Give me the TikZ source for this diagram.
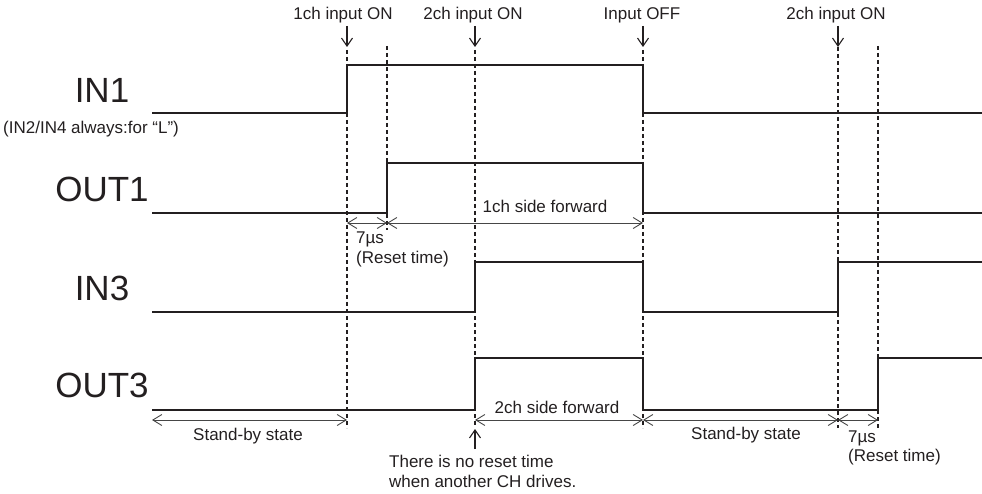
\documentclass[tikz,border=0pt]{standalone}
\usepackage{fontspec}
\setmainfont{Liberation Sans}
\usetikzlibrary{arrows.meta}
\definecolor{ink}{RGB}{35,31,32}
\definecolor{dimc}{RGB}{70,70,70}
\begin{document}
\begin{tikzpicture}[x=1pt,y=-1pt,
  sig/.style={line width=1.8pt, draw=ink, line join=miter, line cap=butt},
  guide/.style={line width=1.3pt, draw=ink, dash pattern=on 4pt off 3pt},
  dimline/.style={line width=0.9pt, draw=dimc, {Straight Barb[length=9pt,width=11pt,line width=0.9pt]}-{Straight Barb[length=9pt,width=11pt,line width=0.9pt]}},
  ptr/.style={line width=1.1pt, draw=ink, -{Straight Barb[length=8pt,width=11pt,line width=1.1pt]}},
  big/.style={font=\fontsize{35}{35}\selectfont, text=ink, inner sep=0pt, anchor=base},
  small/.style={font=\fontsize{17}{20}\selectfont, text=ink, inner sep=0pt, anchor=base},
  smallw/.style={font=\fontsize{17}{20}\selectfont, text=ink, inner sep=0pt, anchor=base west},
]
\useasboundingbox (0,0) rectangle (982,494);

% guide lines
\coordinate (g1t) at (347,50);  \coordinate (g1b) at (347,428);
\coordinate (g2t) at (387,46);  \coordinate (g2b) at (387,230);
\coordinate (g3t) at (475,50);  \coordinate (g3b) at (475,425);
\coordinate (g4t) at (643,50);  \coordinate (g4b) at (643,428);
\coordinate (g5t) at (838,47);  \coordinate (g5b) at (838,428);
\coordinate (g6t) at (878,46);  \coordinate (g6b) at (878,428);
\foreach \i in {1,...,6} {\draw[guide] (g\i t) -- (g\i b);}

% signal labels
\node[big] (lin1) at (102,103) {IN1};
\node[big] (lout1) at (102,202) {OUT1};
\node[big] (lin3) at (102,301) {IN3};
\node[big] (lout3) at (102,397) {OUT3};
\node[small, anchor=base west] (note) at (3,134) {(IN2/IN4 always:for “L”)};

% signals
\draw[sig] (152,113) -- (347,113) -- (347,65) -- (643,65) -- (643,113) -- (982,113);
\draw[sig] (152,213) -- (387,213) -- (387,163) -- (643,163) -- (643,213) -- (982,213);
\draw[sig] (152,312) -- (475,312) -- (475,262) -- (643,262) -- (643,312) -- (838,312) -- (838,262) -- (982,262);
\draw[sig] (152,410) -- (475,410) -- (475,358) -- (643,358) -- (643,410) -- (878,410) -- (878,358) -- (982,358);

% event labels and arrows
\node[small] (e1) at (343,20) {1ch input ON};
\node[small] (e2) at (473,20) {2ch input ON};
\node[small] (e3) at (642,20) {Input OFF};
\node[small] (e4) at (836,20) {2ch input ON};
\coordinate (a1s) at (347,26); \coordinate (a1e) at (347,47);
\coordinate (a2s) at (475,26); \coordinate (a2e) at (475,47);
\coordinate (a3s) at (643,26); \coordinate (a3e) at (643,47);
\coordinate (a4s) at (838,26); \coordinate (a4e) at (838,47);
\foreach \i in {1,...,4} {\draw[ptr] (a\i s) -- (a\i e);}

% upper dimensions
\coordinate (u1) at (347,223); \coordinate (u2) at (387,223); \coordinate (u3) at (643,223);
\draw[dimline] (u1) -- (u2);
\draw[dimline] (u2) -- (u3);
\node[small] (fw1) at (545,213) {1ch side forward};
\node[smallw] (us1) at (356,244) {7µs};
\node[smallw] (rt1) at (356,264) {(Reset time)};

% lower dimensions
\coordinate (l0) at (152,420); \coordinate (l1) at (347,420); \coordinate (l3) at (475,420);
\coordinate (l4) at (643,420); \coordinate (l5) at (838,420); \coordinate (l6) at (878,420);
\draw[dimline] (l0) -- (l1);
\draw[dimline] (l3) -- (l4);
\draw[dimline] (l4) -- (l5);
\draw[dimline] (l5) -- (l6);
\node[small] (sb1) at (248,440) {Stand-by state};
\node[small] (fw2) at (557,413) {2ch side forward};
\node[small] (sb2) at (746,439) {Stand-by state};
\node[smallw] (us2) at (848,442) {7µs};
\node[smallw] (rt2) at (848,461) {(Reset time)};

% no-reset note
\coordinate (nr1) at (475,449); \coordinate (nr2) at (475,429);
\draw[ptr] (nr1) -- (nr2);
\node[smallw] (nt1) at (389,467) {There is no reset time};
\node[smallw] (nt2) at (389,487) {when another CH drives.};
\end{tikzpicture}
\end{document}
